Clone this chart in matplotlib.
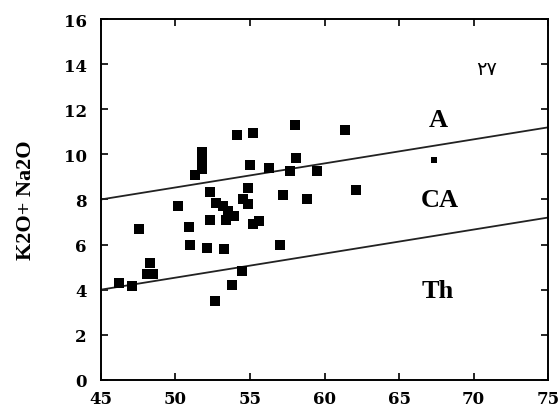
import matplotlib
matplotlib.use('Agg')
import matplotlib.pyplot as plt

# sample points, SiO2 vs K2O+Na2O
sio2 = [46.2, 47.1, 47.55, 48.1, 48.5, 48.3, 50.2, 50.9, 51.0, 51.3,
        51.8, 51.8, 51.8, 52.1, 52.3, 52.3, 52.7, 52.65, 53.25, 53.2,
        53.55, 53.9, 53.4, 54.55, 54.9, 53.8, 54.5, 54.9, 55.0, 55.2,
        55.6, 54.15, 55.2, 56.3, 57.0, 57.2, 57.7, 58.0, 58.1, 58.8,
        59.5, 61.4, 62.1]
alk = [4.3, 4.15, 6.7, 4.7, 4.7, 5.2, 7.7, 6.8, 6.0, 9.1,
       10.1, 9.7, 9.35, 5.87, 8.35, 7.1, 7.85, 3.5, 5.8, 7.7,
       7.5, 7.27, 7.1, 8.0, 7.8, 4.2, 4.85, 8.5, 9.55, 6.9,
       7.05, 10.85, 10.95, 9.4, 6.0, 8.2, 9.25, 11.3, 9.85, 8.0,
       9.25, 11.1, 8.4]
small_x = [67.35]
small_y = [9.75]

# series boundaries
line_x = [45, 75]
upper_y = [8.0, 11.2]
lower_y = [4.0, 7.2]

xticks = [45, 50, 55, 60, 65, 70, 75]
yticks = [0, 2, 4, 6, 8, 10, 12, 14, 16]

serif = 'Liberation Serif'

fig = plt.figure(figsize=(5.6, 4.1), dpi=100)
ax = fig.add_axes([0.180, 0.071, 0.799, 0.880])

ax.plot(line_x, upper_y, color='#222222', lw=1.3)
ax.plot(line_x, lower_y, color='#222222', lw=1.3)
ax.scatter(sio2, alk, marker='s', s=60, color='black', linewidths=0, zorder=3)
ax.scatter(small_x, small_y, marker='s', s=24, color='black', linewidths=0, zorder=3)

ax.text(67.6, 11.55, 'A', fontfamily=serif, fontweight='bold', fontsize=19,
        ha='center', va='center')
ax.text(67.7, 8.0, 'CA', fontfamily=serif, fontweight='bold', fontsize=19,
        ha='center', va='center')
ax.text(67.6, 3.95, 'Th', fontfamily=serif, fontweight='bold', fontsize=19,
        ha='center', va='center')
ax.text(70.9, 13.8, '\u06f2\u06f7', fontfamily='DejaVu Sans', fontsize=14,
        ha='center', va='center')

ax.set_xlim(45, 75)
ax.set_ylim(0, 16)
ax.set_xticks(xticks)
ax.set_yticks(yticks)
ax.tick_params(direction='in', length=5, width=1.2, top=True, right=True,
               labelsize=12)
ax.tick_params(axis='y', pad=10)
ax.tick_params(axis='x', pad=7)
for lab in ax.get_xticklabels() + ax.get_yticklabels():
    lab.set_fontfamily('DejaVu Serif')
    lab.set_fontweight('bold')
for sp in ax.spines.values():
    sp.set_linewidth(1.4)

ax.set_ylabel('K2O+ Na2O', fontfamily=serif, fontweight='bold', fontsize=16,
              labelpad=20)

fig.savefig('out.png', dpi=100)
